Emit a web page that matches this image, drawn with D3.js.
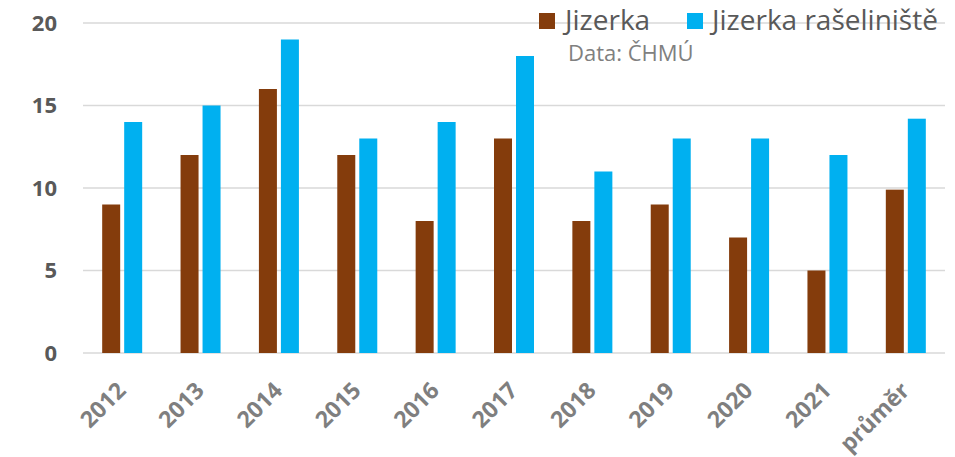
<!DOCTYPE html>
<html><head><meta charset="utf-8">
<script src="https://cdn.jsdelivr.net/npm/d3@7/dist/d3.min.js"></script>
<style>body{margin:0;background:#fff}svg{display:block}</style>
</head><body>
<svg id="c" width="955" height="457"></svg>
<script>
const categories = ["2012","2013","2014","2015","2016","2017","2018","2019","2020","2021","průměr"];
const jizerka = [9,12,16,12,8,13,8,9,7,5,9.9];
const raseliniste = [14,15,19,13,14,18,11,13,13,12,14.2];
const seriesNames = ["Jizerka","Jizerka rašeliniště"];
const colors = ["#843C0C","#00B0F0"];
const yTicks = [0,5,10,15,20];

const svg = d3.select("#c");
const font = "'Open Sans', Calibri, sans-serif";
const x = d3.scaleBand().domain(categories).range([83,945]).paddingInner(0).paddingOuter(0);
const y = d3.scaleLinear().domain([0,20]).range([353,23]);

// gridlines
svg.append("g").selectAll("line").data(yTicks).join("line")
  .attr("x1",83).attr("x2",945).attr("y1",d=>y(d)).attr("y2",d=>y(d))
  .attr("stroke","#d9d9d9").attr("stroke-width",1.3);

// y axis labels
const yAxis = d3.axisLeft(y).tickValues(yTicks).tickSize(0).tickPadding(0);
const ga = svg.append("g").attr("transform","translate(57,0)").call(yAxis);
ga.select(".domain").remove();
ga.selectAll("text").attr("font-family",font).attr("font-size",22).attr("font-weight","bold").attr("fill","#595959");

// bars
const bw = 18, gap = 4;
const data = [jizerka, raseliniste];
data.forEach((vals,si)=>{
  svg.append("g").selectAll("rect").data(categories).join("rect")
    .attr("x",(d)=>x(d)+x.bandwidth()/2 + (si===0 ? -gap/2-bw : gap/2))
    .attr("width",bw)
    .attr("y",(d,i)=>y(vals[i]))
    .attr("height",(d,i)=>y(0)-y(vals[i]))
    .attr("fill",colors[si]);
});

// x axis labels
const xAxis = d3.axisBottom(x).tickSize(0).tickPadding(0);
const gx = svg.append("g").attr("transform","translate(0,353)").call(xAxis);
gx.select(".domain").remove();
gx.selectAll("text")
  .attr("font-family",font).attr("font-size",23).attr("font-weight","bold").attr("fill","#7f7f7f")
  .attr("text-anchor","end").attr("dy",null).attr("y",0)
  .attr("transform","translate(5,39) rotate(-45)");

// legend
const leg = [{x:539,tx:565,t:seriesNames[0],c:colors[0]},{x:687,tx:712,t:seriesNames[1],c:colors[1]}];
leg.forEach(l=>{
  svg.append("rect").attr("x",l.x).attr("y",13).attr("width",16).attr("height",16).attr("fill",l.c);
  svg.append("text").attr("x",l.tx).attr("y",30).text(l.t)
    .attr("font-family",font).attr("font-size",28).attr("fill","#595959");
});
svg.append("text").attr("x",568).attr("y",61).text("Data: ČHMÚ")
  .attr("font-family",font).attr("font-size",22).attr("fill","#808080");
</script>
</body></html>
